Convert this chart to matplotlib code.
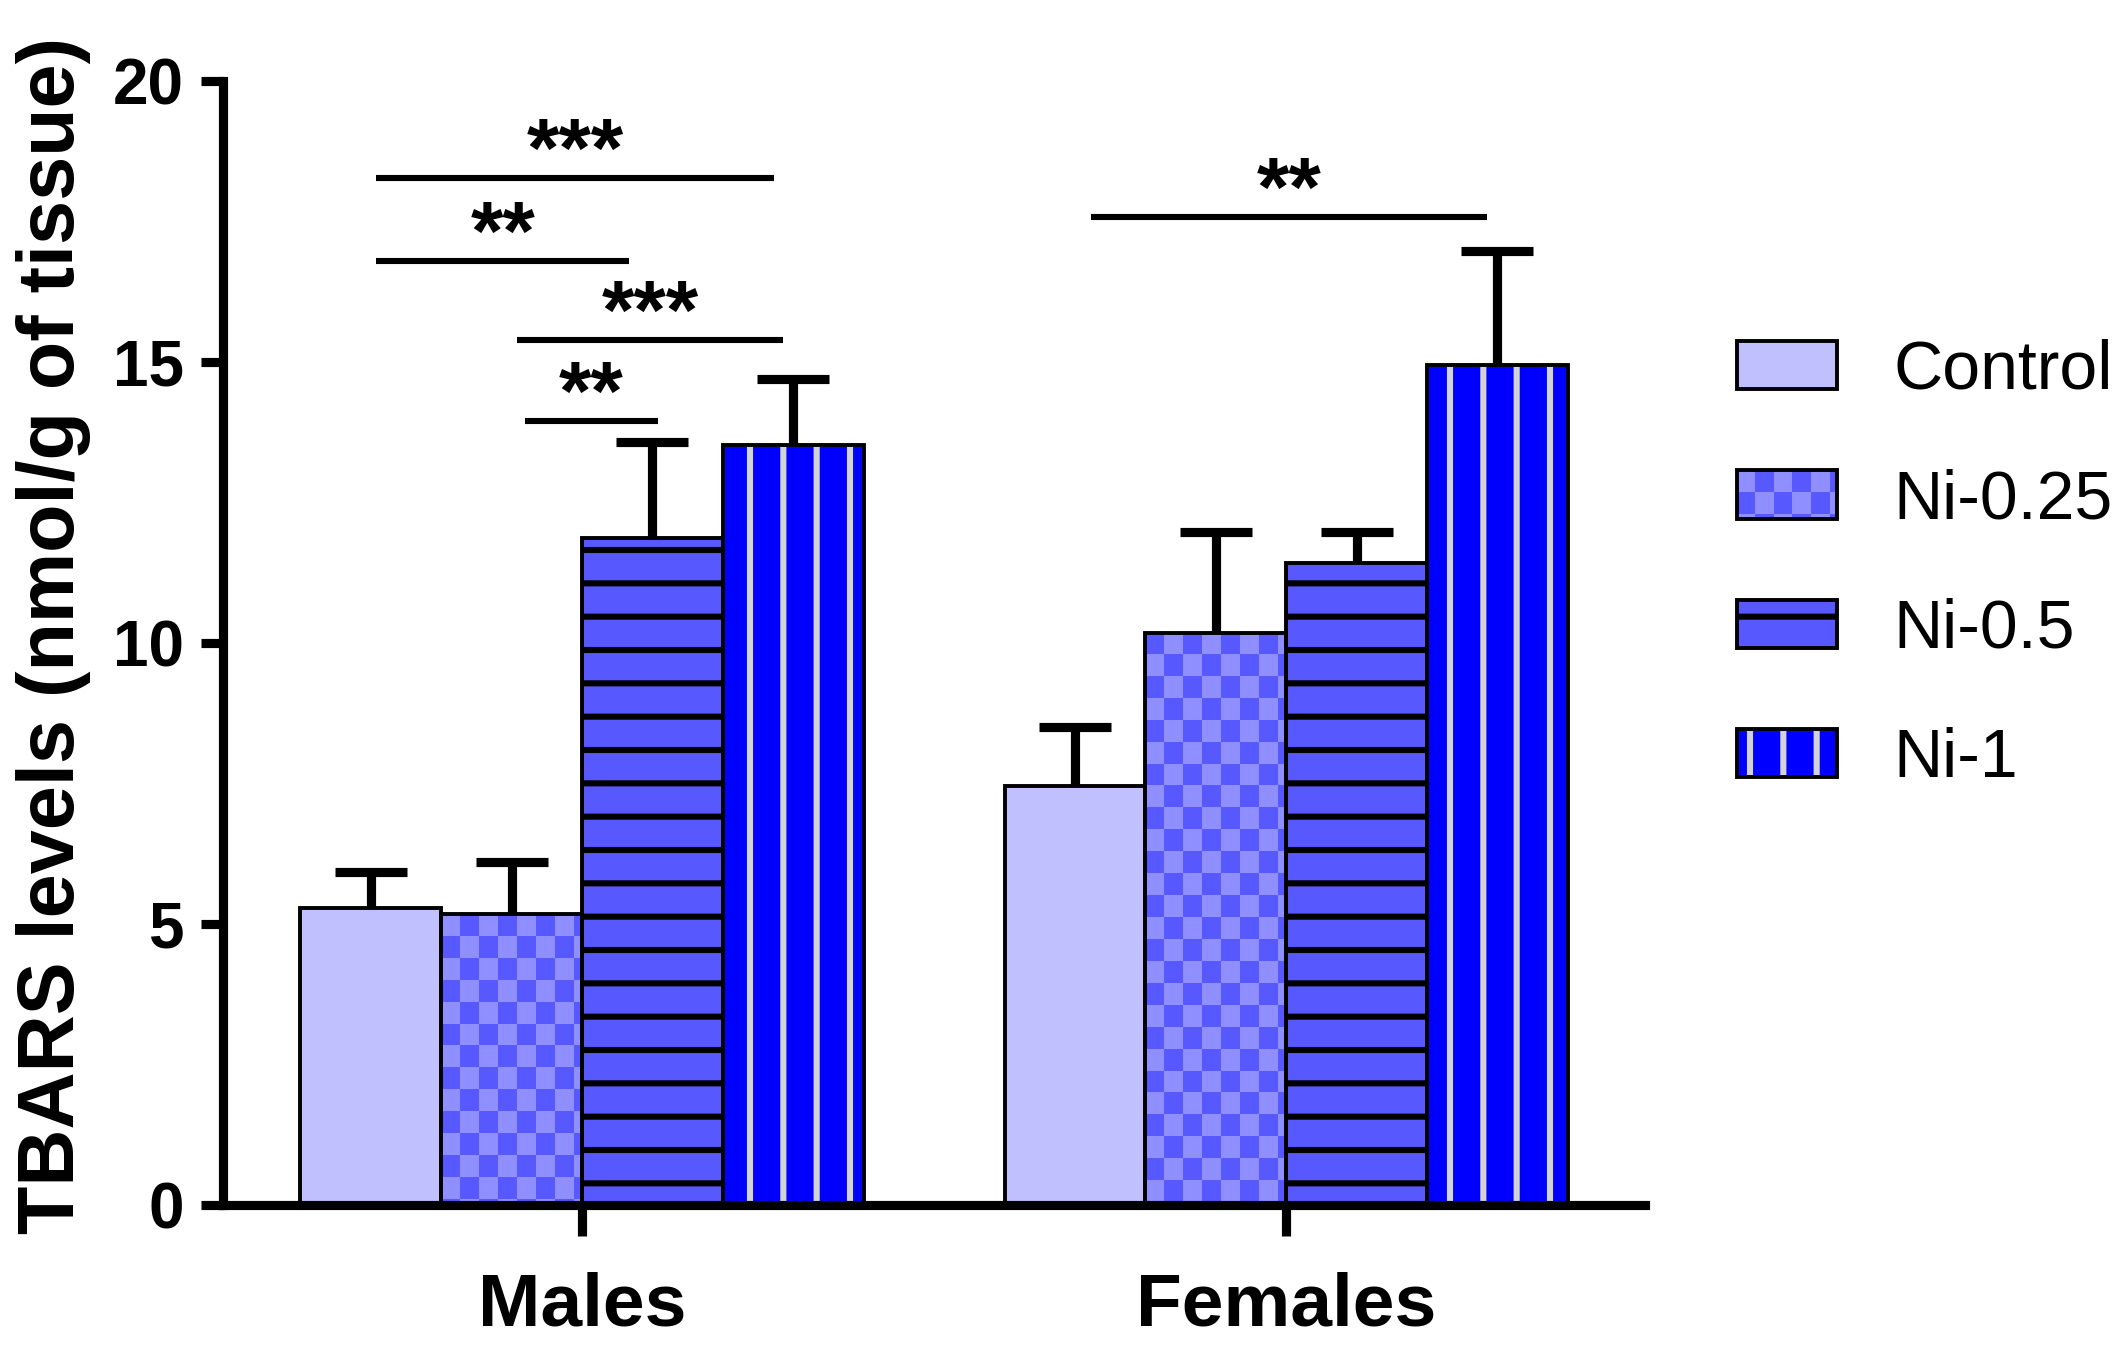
import numpy as np
import matplotlib
matplotlib.use('Agg')
import matplotlib.pyplot as plt
from matplotlib.patches import Rectangle
from matplotlib.colors import ListedColormap
from matplotlib.legend_handler import HandlerBase

# data
groups = ['Males', 'Females']
treatments = ['Control', 'Ni-0.25', 'Ni-0.5', 'Ni-1']
males_mean = [5.28, 5.18, 11.88, 13.52]
females_mean = [7.45, 10.19, 11.42, 14.96]
males_sem = [0.65, 0.92, 1.71, 1.18]
females_sem = [1.05, 1.79, 0.56, 2.03]

# significance bars: group, start / end offset from group centre, height, label
sig_group = [0, 0, 0, 0, 1]
sig_x0 = [-0.292, -0.292, -0.092, -0.081, -0.277]
sig_x1 = [0.273, 0.067, 0.285, 0.108, 0.285]
sig_y = [18.29, 16.8, 15.4, 13.95, 17.59]
sig_text = ['***', '**', '***', '**', '**']

# styles
face = ['#C0C0FF', '#5858FF', '#5858FF', '#0000FF']
hatch = [None, None, '-', '|']
hatch_col = ['black', 'black', 'black', '#D3D3D3']
checker_cols = ['#5858FF', '#8F8FFF']
cell_dx, cell_dy = 0.027, 0.39
bar_w = 0.2

narrow = ['Liberation Sans Narrow', 'Liberation Sans', 'DejaVu Sans']
plt.rcParams['font.family'] = ['Liberation Sans', 'DejaVu Sans']
plt.rcParams['hatch.linewidth'] = 2.2

fig = plt.figure(figsize=(10.615, 6.79), dpi=200)
ax = fig.add_axes([0.105, 0.1127, 0.670, 0.8273])


def checker(ax, bar):
    x0, w, h = bar.get_x(), bar.get_width(), bar.get_height()
    nc = int(np.ceil(w / cell_dx))
    nr = int(np.ceil(h / cell_dy))
    grid = np.add.outer(np.arange(nr), np.arange(nc)) % 2
    im = ax.imshow(grid[::-1], extent=(x0, x0 + nc * cell_dx, h - nr * cell_dy, h),
                   cmap=ListedColormap(checker_cols), interpolation='nearest',
                   aspect='auto', zorder=2)
    im.set_clip_path(bar)


means = [males_mean, females_mean]
sems = [males_sem, females_sem]
for g in range(len(groups)):
    for i in range(len(treatments)):
        x = g + (i - 1.5) * bar_w
        m = means[g][i]
        eb = ax.errorbar(x, m, yerr=[[0], [sems[g][i]]], fmt='none', ecolor='black',
                         elinewidth=3.3, capsize=13, capthick=3.3, zorder=1)
        eb[1][0].set_visible(False)  # no cap at the bar top
        b = ax.bar(x, m, bar_w, color=face[i], hatch=hatch[i],
                   edgecolor=hatch_col[i], linewidth=0, zorder=2)[0]
        if i == 1:
            checker(ax, b)
        ax.bar(x, m, bar_w, facecolor='none', edgecolor='black', linewidth=1.4, zorder=3)

for k in range(len(sig_text)):
    g = sig_group[k]
    ax.plot([g + sig_x0[k], g + sig_x1[k]], [sig_y[k], sig_y[k]], color='black',
            lw=2.2, solid_capstyle='butt', clip_on=False)
    ax.text(g + (sig_x0[k] + sig_x1[k]) / 2, sig_y[k] + 0.02, sig_text[k],
            ha='center', va='baseline', fontsize=30, fontweight='bold')

ax.set_xlim(-0.51, 1.51)
ax.set_ylim(0, 20)
ax.set_yticks([0, 5, 10, 15, 20])
ax.set_xticks(range(len(groups)))
ax.set_xticklabels(groups)
for s in ['top', 'right']:
    ax.spines[s].set_visible(False)
for s in ['left', 'bottom']:
    ax.spines[s].set_linewidth(3.3)
ax.tick_params(axis='y', direction='out', length=8, width=3.3, pad=6)
ax.tick_params(axis='x', direction='out', length=11, width=3.3, pad=13)
for lab in ax.get_yticklabels():
    lab.set_family(narrow)
    lab.set_fontweight('bold')
    lab.set_fontsize(23)
for lab in ax.get_xticklabels():
    lab.set_family(narrow)
    lab.set_fontweight('bold')
    lab.set_fontsize(27)

fig.text(0.025, 0.532, 'TBARS levels (nmol/g of tissue)', rotation=90,
         ha='center', va='center', fontsize=28.5, fontweight='bold')


class BarHandler(HandlerBase):
    def __init__(self, i):
        super().__init__()
        self.i = i

    def create_artists(self, legend, orig_handle, xdescent, ydescent,
                       width, height, fontsize, trans):
        i = self.i
        x0, y0 = -xdescent, -ydescent
        arts = [Rectangle((x0, y0), width, height, facecolor=face[i],
                          hatch=hatch[i], edgecolor=hatch_col[i], lw=0,
                          transform=trans)]
        if i == 1:
            cw, ch = 6.7, 7.9
            nc = int(np.ceil(width / cw))
            nr = int(np.ceil(height / ch))
            for r in range(nr):
                for c in range(nc):
                    if (r + c) % 2 == 0:
                        w = min(cw, width - c * cw)
                        h = min(ch, height - r * ch)
                        arts.append(Rectangle((x0 + c * cw, y0 + height - r * ch - h),
                                              w, h, facecolor=checker_cols[1], lw=0,
                                              transform=trans))
        arts.append(Rectangle((x0, y0), width, height, facecolor='none',
                              edgecolor='black', lw=1.4, transform=trans))
        return arts


lab_size = 24.5
proxies = [Rectangle((0, 0), 1, 1) for _ in treatments]
fig.legend(proxies, treatments,
           handler_map={p: BarHandler(i) for i, p in enumerate(proxies)},
           loc='center left', bbox_to_anchor=(0.818, 0.584), frameon=False,
           borderpad=0, borderaxespad=0, handlelength=36 / lab_size,
           handleheight=17.6 / lab_size, handletextpad=20.5 / lab_size,
           labelspacing=0.96, prop={'family': narrow, 'size': lab_size})

fig.savefig('out.png', dpi=200)
